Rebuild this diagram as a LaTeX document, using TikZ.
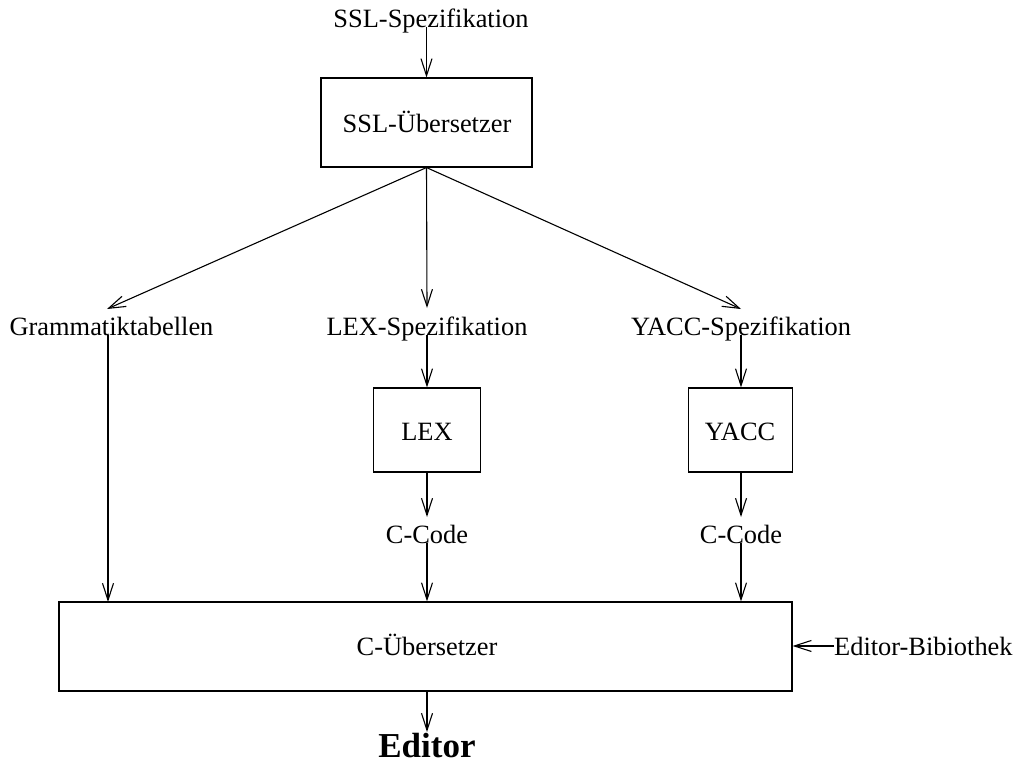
\documentclass[tikz,border=0pt]{standalone}
\usepackage{fontspec}
\setmainfont{Liberation Serif}
\usetikzlibrary{arrows.meta}
\begin{document}
\begin{tikzpicture}[x=1pt,y=-1pt,
  every node/.style={font=\fontsize{26.4}{30}\selectfont},
  lbl/.style={inner sep=0pt, anchor=base},
  proc/.style={draw, line width=1.1pt, inner sep=0pt},
  arr/.style={line width=1.1pt, -{Straight Barb[length=17pt,width=11pt]}}]
\useasboundingbox (0,0) rectangle (1016,763);

% boxes
\node[proc, minimum width=211pt, minimum height=89pt] (ssl) at (426.5,122.5) {};
\node[lbl] (ssltxt) at (427,132) {SSL-Übersetzer};
\node[proc, minimum width=107pt, minimum height=84pt] (lex) at (427,430) {};
\node[lbl] (lextxt) at (427,440) {LEX};
\node[proc, minimum width=104pt, minimum height=84pt] (yacc) at (740.5,430) {};
\node[lbl] (yacctxt) at (740,440) {YACC};
\node[proc, minimum width=733pt, minimum height=89pt] (cc) at (425.5,646.5) {};
\node[lbl] (cctxt) at (427,655) {C-Übersetzer};

% labels
\node[lbl] (sslspec) at (431,27) {SSL-Spezifikation};
\node[lbl] (gram) at (111.5,335) {Grammatiktabellen};
\node[lbl] (lexspec) at (427,335) {LEX-Spezifikation};
\node[lbl] (yaccspec) at (741,335) {YACC-Spezifikation};
\node[lbl] (lexc) at (427,543) {C-Code};
\node[lbl] (yaccc) at (741,543) {C-Code};
\node[lbl, anchor=base west] (bib) at (834,655) {Editor-Bibiothek};
\node[lbl, font=\fontsize{35}{40}\selectfont\bfseries] (ed) at (427,757) {Editor};

% arrow end points
\coordinate (gtip) at (107,309);
\coordinate (ltip) at (427,308);
\coordinate (ytip) at (741,309);
\coordinate (gin) at (108,602);
\coordinate (lctip) at (427,517);
\coordinate (yctip) at (741,517);
\coordinate (edtip) at (427,732);

% connectors
\draw[arr] (sslspec.base -| ssl.north) -- (ssl.north);
\draw[arr] (ssl.south) -- (gtip);
\draw[arr] (ssl.south) -- (ltip);
\draw[arr] (ssl.south) -- (ytip);
\draw[arr] (gram.base -| gin) -- (gin);
\draw[arr] (lexspec.base) -- (lex.north);
\draw[arr] (yaccspec.base) -- (yaccspec.base |- yacc.north);
\draw[arr] (lex.south) -- (lctip);
\draw[arr] (yaccspec.base |- yacc.south) -- (yctip);
\draw[arr] (lexc.base) -- (lexc.base |- cc.north);
\draw[arr] (yaccc.base) -- (yaccc.base |- cc.north);
\draw[arr] (bib.west) -- (bib.west -| cc.east);
\draw[arr] (cc.south -| edtip) -- (edtip);
\end{tikzpicture}
\end{document}
